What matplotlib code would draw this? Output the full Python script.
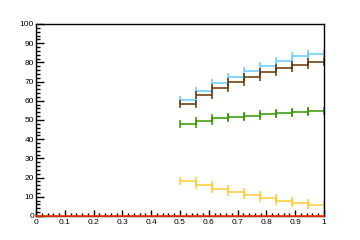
import numpy as np
import matplotlib
matplotlib.use("Agg")
import matplotlib.pyplot as plt
from matplotlib.ticker import MultipleLocator

# bins: 9 equal bins from 0.5 to 1.0
bin_edges = np.linspace(0.5, 1.0, 10)

cyan_vals = [60.3, 65.2, 69.5, 72.4, 75.5, 78.3, 80.9, 83.2, 84.6]
brown_vals = [58.4, 62.9, 66.6, 69.7, 72.4, 75.0, 77.1, 78.6, 80.2]
green_vals = [47.7, 49.3, 50.8, 51.4, 52.3, 53.0, 53.6, 54.2, 54.7]
yellow_vals = [18.4, 16.3, 14.2, 12.7, 11.1, 9.5, 8.0, 6.9, 5.9]

zero_x = [0.0, 1.0]
zero_vals = [0.0, 0.0]

x_labels = ["0", "0.1", "0.2", "0.3", "0.4", "0.5", "0.6", "0.7", "0.8", "0.9", "1"]

plt.rcParams['font.family'] = ['Liberation Sans', 'DejaVu Sans']

fig = plt.figure(figsize=(3.6, 2.4), dpi=100)
ax = fig.add_axes([0.1, 0.1, 0.8, 0.8])

centers = 0.5 * (bin_edges[:-1] + bin_edges[1:])
half = 0.5 * np.diff(bin_edges)

series = [
    (cyan_vals, "#66ccff"),
    (brown_vals, "#663300"),
    (green_vals, "#339900"),
    (yellow_vals, "#ffcc33"),
]
for vals, col in series:
    ax.errorbar(centers, vals, xerr=half, fmt='none', ecolor=col,
                elinewidth=1.1, capsize=3, capthick=1.1)

# empty histogram sitting on the x axis
ax.plot(zero_x, zero_vals, color="#ff3300", lw=1.2, clip_on=False, zorder=3)

ax.set_xlim(0, 1)
ax.set_ylim(0, 100)
ax.set_xticks(np.arange(0, 1.01, 0.1))
ax.set_xticklabels(x_labels)
ax.xaxis.set_minor_locator(MultipleLocator(0.02))
ax.yaxis.set_major_locator(MultipleLocator(10))
ax.yaxis.set_minor_locator(MultipleLocator(2))

ax.tick_params(axis='both', which='both', direction='in', top=False, right=False,
               labelsize=6, width=1)
ax.tick_params(axis='y', which='major', length=6, pad=1.5)
ax.tick_params(axis='y', which='minor', length=3)
ax.tick_params(axis='x', which='major', length=4.5, pad=2)
ax.tick_params(axis='x', which='minor', length=2.5)
for s in ax.spines.values():
    s.set_linewidth(1)

fig.savefig("out.png", dpi=100)
